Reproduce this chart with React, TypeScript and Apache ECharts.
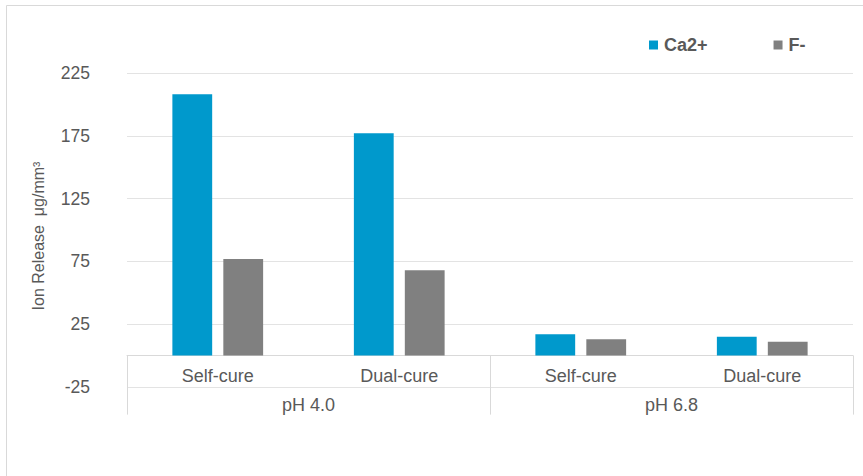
import React, { useEffect, useRef } from "react";
import * as echarts from "echarts";

// Ion release per formulation, grouped by storage pH
const cureModes = ["Self-cure", "Dual-cure", "Self-cure", "Dual-cure"];
const phGroups = ["pH 4.0", "pH 6.8"];
const calciumRelease = [208, 177, 17, 15];
const fluorideRelease = [77, 68, 13, 11];

const TEXT = "#595959";
const RULE = "#d9d9d9";
const FONT = "'Liberation Sans', Arial, sans-serif";

export default function App() {
  const ref = useRef<HTMLDivElement>(null);

  useEffect(() => {
    document.body.style.margin = "0";
    const chart = echarts.init(ref.current!, undefined, { renderer: "svg" });
    chart.setOption({
      animation: false,
      textStyle: { fontFamily: FONT },
      graphic: [
        {
          type: "rect",
          shape: { x: 6.5, y: 5.5, width: 880, height: 490 },
          style: { fill: "none", stroke: RULE, lineWidth: 1 },
          silent: true,
        },
        {
          type: "text",
          x: 38,
          y: 236,
          rotation: Math.PI / 2,
          style: {
            text: "Ion Release  μg/mm³",
            fill: TEXT,
            fontSize: 16,
            fontFamily: FONT,
            align: "center",
            verticalAlign: "middle",
          },
        },
      ],
      legend: {
        left: 644,
        top: 31,
        itemWidth: 9,
        itemHeight: 9,
        itemGap: 66,
        icon: "rect",
        textStyle: { color: TEXT, fontSize: 18, fontWeight: "bold", fontFamily: FONT, padding: [0, 0, 0, 1] },
        data: ["Ca2+", "F-"],
      },
      grid: { left: 127, right: 10, top: 73, bottom: 89, containLabel: false },
      xAxis: [
        {
          type: "category",
          data: cureModes,
          position: "bottom",
          axisLine: { onZero: true, onZeroAxisIndex: 0, lineStyle: { color: RULE, width: 1 } },
          axisTick: { show: false },
          axisLabel: { color: TEXT, fontSize: 18, margin: -20, fontFamily: FONT },
        },
        {
          type: "category",
          data: phGroups,
          position: "bottom",
          axisLine: { show: false, onZero: true, onZeroAxisIndex: 0 },
          axisTick: { show: true, length: 59, lineStyle: { color: RULE, width: 1 } },
          axisLabel: { color: TEXT, fontSize: 18, margin: 9, fontFamily: FONT },
        },
      ],
      yAxis: {
        type: "value",
        min: -25,
        max: 225,
        interval: 50,
        axisLine: { show: false },
        axisTick: { show: false },
        axisLabel: { color: TEXT, fontSize: 17.5, margin: 37, fontFamily: FONT },
        splitLine: { lineStyle: { color: "#e3e3e3", width: 1 } },
      },
      series: [
        {
          name: "Ca2+",
          type: "bar",
          data: calciumRelease,
          barGap: "28%",
          barCategoryGap: "50%",
          itemStyle: { color: "#0099cc" },
        },
        {
          name: "F-",
          type: "bar",
          data: fluorideRelease,
          itemStyle: { color: "#808080" },
        },
      ],
    });
    return () => chart.dispose();
  }, []);

  return <div ref={ref} style={{ width: 863, height: 476 }} />;
}
